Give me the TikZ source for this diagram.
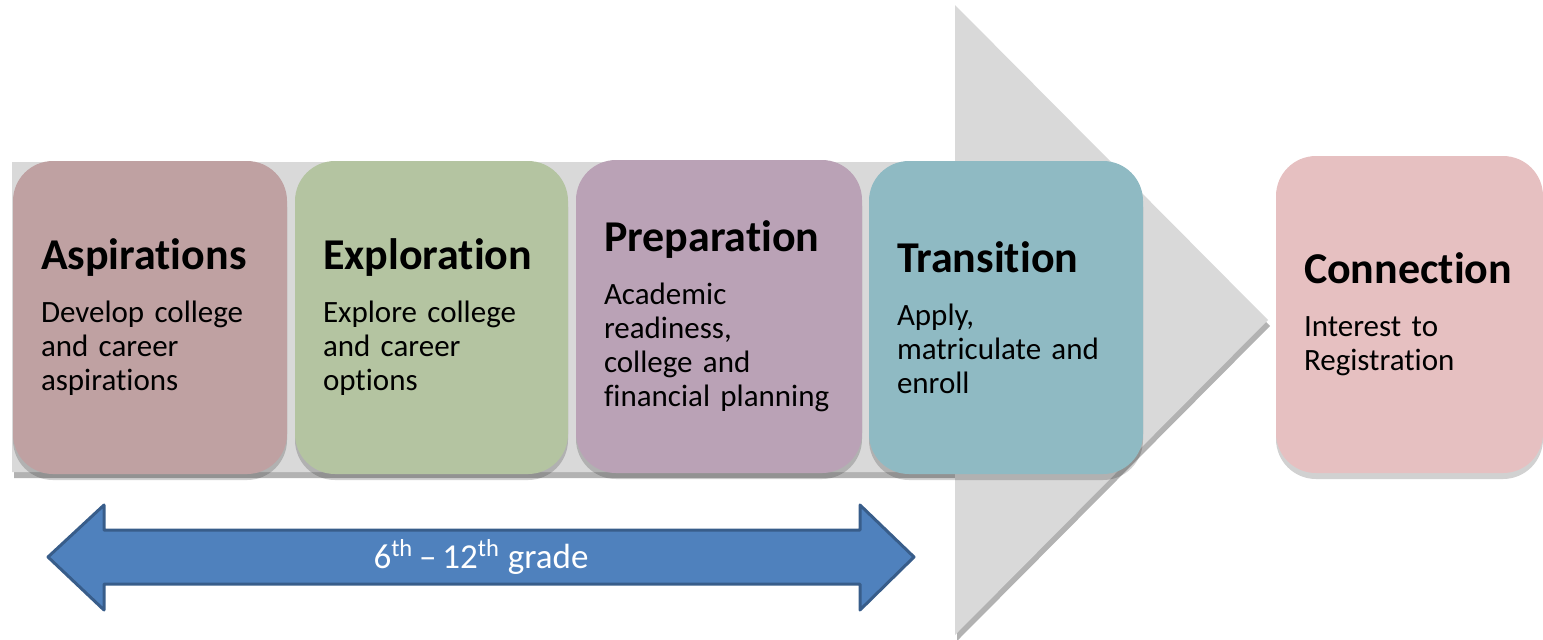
\documentclass[tikz,border=0pt]{standalone}
\usepackage{fontspec}
\setmainfont{Carlito}[Ligatures=NoCommon]
\usepackage{tikz}
\usetikzlibrary{shadows}

\definecolor{arrowgray}{RGB}{217,217,217}
\definecolor{aspircol}{RGB}{191,161,162}
\definecolor{explorcol}{RGB}{180,196,161}
\definecolor{prepcol}{RGB}{186,162,182}
\definecolor{transcol}{RGB}{143,186,195}
\definecolor{conncol}{RGB}{230,192,193}
\definecolor{gradefill}{RGB}{79,129,189}
\definecolor{gradeline}{RGB}{56,93,138}

\begin{document}
\begin{tikzpicture}[x=0.5pt, y=-0.5pt,
  stage/.style={rounded corners=20pt, minimum height=156.5pt, inner xsep=14pt,
    align=left, font=\fontsize{15.5}{17}\selectfont,
    drop shadow={shadow xshift=0pt, shadow yshift=-3pt, opacity=0.18, fill=black}}
]
% Fix the page to the pixel grid of the picture
\useasboundingbox (0,0) rectangle (1543,639);

% Big gray arrow in the back
\fill[arrowgray, drop shadow={shadow xshift=1pt, shadow yshift=-3pt, opacity=0.3, fill=black}]
  (12,162) -- (955,162) -- (955,5) -- (1268,320) -- (955,635) -- (955,472) -- (12,472) -- cycle;

% The five stages
\node[stage, fill=aspircol, minimum width=137pt, text width=109pt] (aspir) at (150,317.5)
  {{\fontsize{22}{26}\selectfont\bfseries Aspirations}\\[9.5pt]Develop college\\ and career\\ aspirations};
\node[stage, fill=explorcol, minimum width=136.5pt, text width=108.5pt] (explor) at (431.5,317.5)
  {{\fontsize{22}{26}\selectfont\bfseries Exploration}\\[9.5pt]Explore college\\ and career\\ options};
\node[stage, fill=prepcol, minimum width=143pt, text width=115pt] (prep) at (719,316.5)
  {{\fontsize{22}{26}\selectfont\bfseries Preparation}\\[9.5pt]Academic\\ readiness,\\ college and\\ financial planning};
\node[stage, fill=transcol, minimum width=137pt, text width=109pt] (trans) at (1006,317.5)
  {{\fontsize{22}{26}\selectfont\bfseries Transition}\\[9.5pt]Apply,\\ matriculate and\\ enroll};
\node[stage, fill=conncol, minimum width=133.5pt, minimum height=158.5pt, text width=105.5pt] (conn) at (1409.5,314.5)
  {{\fontsize{22}{26}\selectfont\bfseries Connection}\\[9.5pt]Interest to\\ Registration};

% Double arrow for the grades
\filldraw[fill=gradefill, draw=gradeline, line width=1.5pt, line join=round]
  (48,557) -- (104,505) -- (104,530) -- (860,530) -- (860,505) -- (914,557)
  -- (860,610) -- (860,584) -- (104,584) -- (104,610) -- cycle;
\node[text=white, font=\fontsize{17.5}{20}\selectfont] (grades) at (481,557)
  {6\textsuperscript{th}\,--\,12\textsuperscript{th} grade};

\end{tikzpicture}
\end{document}
